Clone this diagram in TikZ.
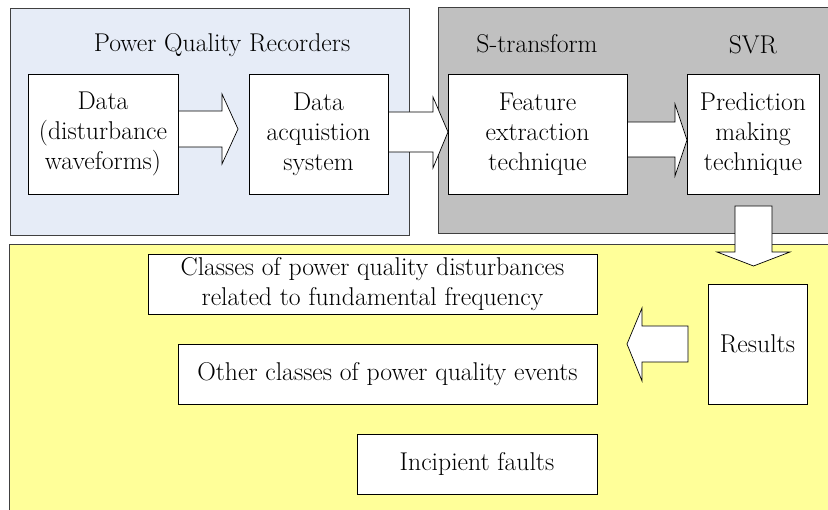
\documentclass[tikz,border=0pt]{standalone}
\definecolor{panelblue}{RGB}{230,236,247}
\definecolor{panelgray}{RGB}{192,192,192}
\definecolor{panelyellow}{RGB}{255,255,153}
\definecolor{panelline}{RGB}{64,64,64}
\begin{document}
\begin{tikzpicture}[x=1pt,y=-1pt,
  panel/.style={draw=panelline,line width=0.8pt},
  box/.style={draw=black,fill=white,line width=0.9pt,inner sep=0pt,align=center,
    font=\rmfamily\fontsize{25.7}{30}\selectfont},
  blockarrow/.style={draw=black,fill=white,line width=0.7pt,line join=miter},
  title/.style={font=\rmfamily\fontsize{25.7}{30}\selectfont,inner sep=0pt}]
\useasboundingbox (0,0) rectangle (828,510);
% panels
\fill[panelblue] (10,8) rectangle (409,235);
\draw[panel] (10,8) rectangle (409,235);
\fill[panelgray] (438,7) rectangle (840,233);
\draw[panel] (840,233) -- (438,233) -- (438,7) -- (840,7);
\fill[panelyellow] (9,244) rectangle (840,520);
\draw[panel] (840,244) -- (9,244) -- (9,520);
% titles
\node[title] (t1) at (222,45) {Power Quality Recorders};
\node[title] (t2) at (537,44) {S-transform};
\node[title] (t3) at (753,45) {SVR};
% block arrows
\draw[blockarrow] (178,111) -- (222,111) -- (222,94) -- (238,129) -- (222,164) -- (222,147) -- (178,147) -- cycle;
\draw[blockarrow] (388,112) -- (433,112) -- (433,97) -- (448,132) -- (433,168) -- (433,152) -- (388,152) -- cycle;
\draw[blockarrow] (627,122) -- (675,122) -- (675,104) -- (687,140) -- (675,176) -- (675,157) -- (627,157) -- cycle;
\draw[blockarrow] (735,206) -- (772,206) -- (772,252) -- (790,252) -- (753.5,266) -- (717,252) -- (735,252) -- cycle;
\draw[blockarrow] (688,326) -- (642,326) -- (642,308) -- (627,344) -- (642,381) -- (642,362) -- (688,362) -- cycle;
% boxes
\node[box,minimum width=150pt,minimum height=120pt] (data) at (103,134) {Data\\(disturbance\\waveforms)};
\node[box,minimum width=139pt,minimum height=120pt] (acq) at (318.5,134) {Data\\acquistion\\system};
\node[box,minimum width=179pt,minimum height=120pt] (feat) at (537.5,134) {Feature\\extraction\\technique};
\node[box,minimum width=132pt,minimum height=120pt] (pred) at (753,134) {Prediction\\making\\technique};
\node[box,minimum width=99pt,minimum height=120pt] (res) at (757.5,344) {Results};
\node[box,minimum width=449pt,minimum height=60pt] (c1) at (372.5,284) {Classes of power quality disturbances\\related to fundamental frequency};
\node[box,minimum width=419pt,minimum height=60pt] (c2) at (387.5,374) {Other classes of power quality events};
\node[box,minimum width=240pt,minimum height=60pt] (c3) at (477,464) {Incipient faults};
\end{tikzpicture}
\end{document}
